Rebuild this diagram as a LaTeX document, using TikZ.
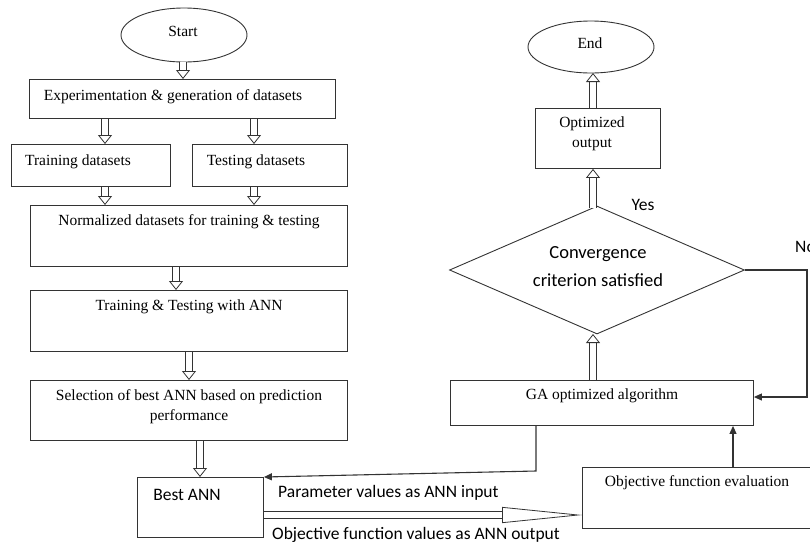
\documentclass[tikz,border=0pt]{standalone}
\usepackage{fontspec}
\setmainfont{Liberation Serif}
\newfontfamily\calfont{Carlito}
\usetikzlibrary{arrows.meta,shapes.geometric}
\begin{document}
\begin{tikzpicture}[x=1pt,y=-1pt,
  line join=miter,
  serif/.style={font=\fontsize{15.5}{20}\selectfont},
  sans/.style={font=\calfont\fontsize{17.5}{21}\selectfont},
  box/.style={draw=black!80, line width=0.9pt, inner sep=0pt, anchor=north west, rectangle},
  oval/.style={draw=black!80, line width=0.9pt, inner sep=0pt, ellipse},
  tx/.style={serif, inner sep=0pt, align=center},
  hollow/.style={draw=black!80, line width=0.8pt, double=white, double distance=5.5pt,
    -{Triangle[open, width=14pt, length=9pt]}},
  bighollow/.style={draw=black!80, line width=0.8pt, double=white, double distance=6pt,
    -{Triangle[open, width=16pt, length=80pt]}},
  arr/.style={draw=black!80, line width=1.1pt, -{Triangle[width=7pt, length=8pt]}}
]
\useasboundingbox (0,0) rectangle (810,544);

% left column
\node[oval, minimum width=126, minimum height=54] (start) at (184,35) {};
\node[tx] (startt) at (183,31) {Start};
\node[box, minimum width=306, minimum height=39] (exp) at (29,79) {};
\node[tx] (expt) at (173,97) {Experimentation \& generation of datasets};
\node[box, minimum width=159, minimum height=42] (train) at (11,144) {};
\node[tx] (traint) at (78,162) {Training datasets};
\node[box, minimum width=155, minimum height=42] (test) at (192,144) {};
\node[tx] (testt) at (256,162) {Testing datasets};
\node[box, minimum width=317, minimum height=61] (norm) at (30,205) {};
\node[tx] (normt) at (189,222) {Normalized datasets for training \& testing};
\node[box, minimum width=317, minimum height=61] (ttann) at (30,290) {};
\node[tx] (ttannt) at (189,307) {Training \& Testing with ANN};
\node[box, minimum width=317, minimum height=60] (sel) at (30,380) {};
\node[tx] (selt) at (189,407) {Selection of best ANN based on prediction\\performance};
\node[box, minimum width=126, minimum height=60] (best) at (137,477) {};
\node[sans, inner sep=0pt] (bestt) at (187,495) {Best ANN};

% right column
\node[oval, minimum width=126, minimum height=52] (end) at (591,47) {};
\node[tx] (endt) at (590,43) {End};
\node[box, minimum width=125, minimum height=60] (opt) at (535,108) {};
\node[tx] (optt) at (592,134) {Optimized\\output};
\node[draw=black!80, line width=0.9pt, diamond, aspect=2.3, inner sep=0pt,
      minimum width=295, minimum height=128] (dia) at (597,270) {};
\node[sans, font=\calfont\fontsize{18.5}{28}\selectfont, align=center, inner sep=0pt] (diat) at (598,267) {Convergence\\criterion satisfied};
\node[box, minimum width=303, minimum height=45] (ga) at (450,380) {};
\node[tx] (gat) at (602,396) {GA optimized algorithm};
\node[box, minimum width=260, minimum height=61] (obj) at (582,467) {};
\node[tx] (objt) at (697,483) {Objective function evaluation};

% labels
\node[sans, inner sep=0pt] (yes) at (643,205) {Yes};
\node[sans, inner sep=0pt, anchor=west] (no) at (795,247) {No};
\node[sans, inner sep=0pt, anchor=west] (pin) at (278,493) {Parameter values as ANN input};
\node[sans, inner sep=0pt, anchor=west] (pout) at (272,535) {Objective function values as ANN output};

% hollow arrows, left
\draw[hollow] (183,0 |- start.south) -- (183,0 |- exp.north);
\draw[hollow] (105,0 |- exp.south) -- (105,0 |- train.north);
\draw[hollow] (254,0 |- exp.south) -- (254,0 |- test.north);
\draw[hollow] (105,0 |- train.south) -- (105,0 |- norm.north);
\draw[hollow] (254,0 |- test.south) -- (254,0 |- norm.north);
\draw[hollow] (176,0 |- norm.south) -- (176,0 |- ttann.north);
\draw[hollow] (189,0 |- ttann.south) -- (189,0 |- sel.north);
\draw[hollow] (200,0 |- sel.south) -- (200,0 |- best.north);

% hollow arrows, right
\draw[hollow] (593,0 |- ga.north) -- (593,334);
\draw[hollow] (593,208) -- (593,0 |- opt.south);
\draw[hollow] (593,0 |- opt.north) -- (593,73);

% big hollow arrow
\draw[bighollow] (best.east |- 0,515) -- (obj.west |- 0,515);

% thin arrows
\draw[arr] (dia.east) -- (807,0 |- dia.east) -- (807,397) -- (ga.east |- 0,397);
\draw[arr] (536,0 |- ga.south) -- (536,471) -- (best.north east);
\draw[arr] (733,0 |- obj.north) -- (733,0 |- ga.south);
\end{tikzpicture}
\end{document}
